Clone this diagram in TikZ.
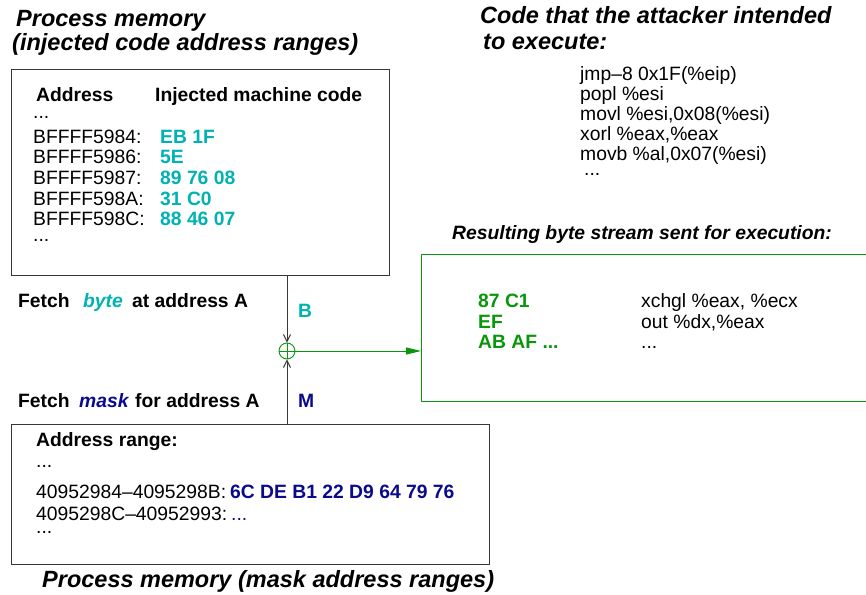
\documentclass[tikz,border=0pt]{standalone}
\usepackage{fontspec}
\setmainfont{Liberation Sans}
\usetikzlibrary{arrows.meta}
\definecolor{codecyan}{RGB}{0,178,178}
\definecolor{masknavy}{RGB}{10,10,140}
\definecolor{resgreen}{RGB}{10,150,10}
\definecolor{frame}{RGB}{55,55,55}
\newcommand\bodysize{\fontsize{19.3}{20.7}\selectfont}
\newcommand\headsize{\fontsize{23.5}{24.5}\selectfont}
\tikzset{
  txt/.style={anchor=base west, inner sep=0pt, font=\bodysize},
  btxt/.style={txt, font=\bodysize\bfseries},
  dots/.style={txt, text height=3pt, text depth=0pt},
  ttl/.style={anchor=base west, inner sep=0pt, font=\headsize\bfseries\itshape},
  membox/.style={draw=frame, line width=1pt, anchor=north west, inner sep=0pt},
  resbox/.style={draw=resgreen, line width=1pt, anchor=north west, inner sep=0pt},
  feed/.style={draw=frame, line width=0.9pt, -{Straight Barb[length=7pt,width=7pt,line width=1pt]}},
  sendline/.style={draw=resgreen, line width=0.9pt, -{Triangle[length=15pt,width=7pt]}},
}
\begin{document}
\begin{tikzpicture}[x=1pt,y=-1pt]
\useasboundingbox (0,0) rectangle (866,594);

% top memory region: injected code
\node[ttl] (t1a) at (16,27) {Process memory};
\node[ttl] (t1b) at (12,50) {(injected code address ranges)};
\node[membox, minimum width=378pt, minimum height=206pt] (inj) at (11,69) {};
\node[btxt] (hA) at (36,101) {Address};
\node[btxt] (hI) at (155,101) {Injected machine code};
\node[dots] (d1) at (33,118) {...};
\node[txt] (a1) at (33,143) {BFFFF5984:};
\node[txt] (a2) at (33,163.5) {BFFFF5986:};
\node[txt] (a3) at (33,184.5) {BFFFF5987:};
\node[txt] (a4) at (33,205) {BFFFF598A:};
\node[txt] (a5) at (33,225) {BFFFF598C:};
\node[dots] (d2) at (33,241.5) {...};
\node[btxt, text=codecyan] (c1) at (160,143) {EB 1F};
\node[btxt, text=codecyan] (c2) at (160,163.5) {5E};
\node[btxt, text=codecyan] (c3) at (160,184.5) {89 76 08};
\node[btxt, text=codecyan] (c4) at (160,205) {31 C0};
\node[btxt, text=codecyan] (c5) at (160,225) {88 46 07};

% intended code
\node[ttl] (t2a) at (480,24) {Code that the attacker intended};
\node[ttl] (t2b) at (483,49) {to execute:};
\node[txt] (i1) at (580,80.5) {jmp–8 0x1F(\%eip)};
\node[txt] (i2) at (580,100.5) {popl \%esi};
\node[txt] (i3) at (580,120) {movl \%esi,0x08(\%esi)};
\node[txt] (i4) at (580,140) {xorl \%eax,\%eax};
\node[txt] (i5) at (580,160.5) {movb \%al,0x07(\%esi)};
\node[dots] (i6) at (584,175) {...};

% fetch labels
\node[btxt] (f1) at (18,307) {Fetch};
\node[btxt, font=\bodysize\bfseries\itshape, text=codecyan] (f1b) at (83,307) {byte};
\node[btxt] (f1c) at (132,307) {at address A};
\node[btxt, text=codecyan] (lB) at (298,317) {B};
\node[btxt] (f2) at (18,407) {Fetch};
\node[btxt, font=\bodysize\bfseries\itshape, text=masknavy] (f2b) at (79,407) {mask};
\node[btxt] (f2c) at (135,407) {for address A};
\node[btxt, text=masknavy] (lM) at (298,407) {M};

% XOR combiner
\node[circle, draw=resgreen, line width=0.9pt, minimum size=16pt, inner sep=0pt,
  path picture={\draw[resgreen, line width=0.9pt]
    (path picture bounding box.north) -- (path picture bounding box.south)
    (path picture bounding box.west) -- (path picture bounding box.east);}]
  (xor) at (287,351) {};

% result region
\node[ttl, font=\bodysize\bfseries\itshape] (t3) at (452,239.5) {Resulting byte stream sent for execution:};
\node[resbox, minimum width=470pt, minimum height=147pt] (res) at (421,254) {};
\node[btxt, text=resgreen] (r1) at (478,307) {87 C1};
\node[btxt, text=resgreen] (r2) at (478,328) {EF};
\node[btxt, text=resgreen] (r3) at (478,348) {AB AF ...};
\node[txt] (s1) at (641,307) {xchgl \%eax, \%ecx};
\node[txt] (s2) at (641,328) {out \%dx,\%eax};
\node[dots] (s3) at (641,348) {...};

% bottom memory region: masks
\node[membox, minimum width=478pt, minimum height=140pt] (msk) at (11,424) {};
\node[btxt] (mh) at (36,446.5) {Address range:};
\node[dots] (m0) at (36,467.5) {...};
\node[txt] (m1) at (36,498) {40952984–4095298B:};
\node[btxt, text=masknavy] (m1v) at (230,498) {6C DE B1 22 D9 64 79 76};
\node[txt] (m2) at (36,520) {4095298C–40952993:};
\node[dots, text=masknavy] (m2v) at (231,520) {...};
\node[dots] (m3) at (36,533.5) {...};
\node[ttl] (t4) at (42,587) {Process memory (mask address ranges)};

% connectors
\draw[feed] (xor |- inj.south) -- (xor.north);
\draw[feed] (xor |- msk.north) -- (xor.south);
\draw[sendline] (xor.east) -- (xor -| res.west);
\end{tikzpicture}
\end{document}
